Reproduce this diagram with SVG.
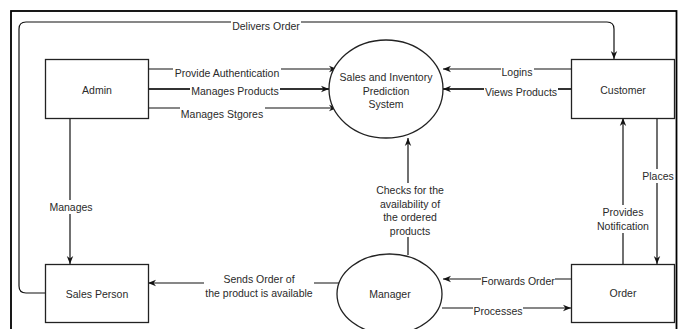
<svg xmlns="http://www.w3.org/2000/svg" width="680" height="329" viewBox="0 0 680 329">
<style>
.box{fill:#fff;stroke:#222;stroke-width:1.3}
.ell{fill:#fff;stroke:#222;stroke-width:1.3}
.ln{fill:none;stroke:#111;stroke-width:1.2}
.thick{stroke:#333;stroke-width:1.8}
.lbg{fill:#fff;stroke:none}
text{font-family:"Liberation Sans",Arial,sans-serif;font-size:10.5px;fill:#2a2a2a;text-anchor:middle;dominant-baseline:central}
</style>
<defs>
<marker id="ah" viewBox="0 0 10 10" refX="10" refY="5" markerWidth="8" markerHeight="8" markerUnits="userSpaceOnUse" orient="auto">
<path d="M0,1 L10,5 L0,9 L3,5 z" fill="#111"/>
</marker>
</defs>
<rect x="0" y="0" width="680" height="329" fill="#fff"/>
<rect id="frame" x="11" y="11" width="665.5" height="340" fill="none" stroke="#000" stroke-width="1.8"/>

<g id="connectors">
<path class="ln" d="M45,293 H26 Q19,293 19,286 V29 Q19,22 26,22 H607 Q614,22 614,29 V59" marker-end="url(#ah)"/>
<path class="ln" d="M149,69 H337" marker-end="url(#ah)"/>
<path class="ln thick" d="M149,89 H329" marker-end="url(#ah)"/>
<path class="ln" d="M149,108 H337" marker-end="url(#ah)"/>
<path class="ln" d="M571,69 H443" marker-end="url(#ah)"/>
<path class="ln thick" d="M571,89 H443" marker-end="url(#ah)"/>
<path class="ln" d="M70,118 V264" marker-end="url(#ah)"/>
<path class="ln" d="M408,255 V138" marker-end="url(#ah)"/>
<path class="ln" d="M623,264 V118" marker-end="url(#ah)"/>
<path class="ln" d="M657,118 V264" marker-end="url(#ah)"/>
<path class="ln" d="M339,283 H148" marker-end="url(#ah)"/>
<path class="ln" d="M571,279 H443" marker-end="url(#ah)"/>
<path class="ln" d="M442,308 H571" marker-end="url(#ah)"/>

<rect class="lbg" x="231" y="18" width="70" height="15"/>
<text x="266" y="26">Delivers Order</text>
<rect class="lbg" x="173" y="66" width="108" height="14"/>
<text x="227" y="73">Provide Authentication</text>
<rect class="lbg" x="190" y="85" width="90" height="13"/>
<text x="235" y="91">Manages Products</text>
<rect class="lbg" x="180" y="106" width="85" height="15"/>
<text x="222" y="114">Manages Stgores</text>
<rect class="lbg" x="501" y="65" width="33" height="14"/>
<text x="517" y="72">Logins</text>
<rect class="lbg" x="484" y="85" width="74" height="14"/>
<text x="521" y="92">Views Products</text>
<rect class="lbg" x="48" y="200" width="46" height="14"/>
<text x="71" y="207">Manages</text>
<rect class="lbg" x="375" y="183" width="70" height="54"/>
<text x="410" y="190">Checks for the</text>
<text x="410" y="203.5">availability of</text>
<text x="410" y="217">the ordered</text>
<text x="410" y="230.5">products</text>
<rect class="lbg" x="596" y="205" width="54" height="28"/>
<text x="623" y="212">Provides</text>
<text x="623" y="226">Notification</text>
<rect class="lbg" x="642" y="169" width="32" height="14"/>
<text x="658" y="176">Places</text>
<rect class="lbg" x="204" y="272" width="110" height="28"/>
<text x="259" y="279">Sends Order of</text>
<text x="259" y="293">the product is available</text>
<rect class="lbg" x="481" y="274" width="74" height="14"/>
<text x="518" y="281">Forwards Order</text>
<rect class="lbg" x="473" y="304" width="50" height="14"/>
<text x="498" y="311">Processes</text>
</g>

<g id="admin">
<rect class="box" x="45.5" y="59.5" width="103" height="59"/>
<text x="97" y="90">Admin</text>
</g>
<g id="system">
<ellipse class="ell" cx="386" cy="89" rx="57" ry="49"/>
<text x="386" y="77">Sales and Inventory</text>
<text x="386" y="90.5">Prediction</text>
<text x="386" y="104">System</text>
</g>
<g id="customer">
<rect class="box" x="571.5" y="59.5" width="103" height="59"/>
<text x="623" y="90">Customer</text>
</g>
<g id="salesperson">
<rect class="box" x="45.5" y="264.5" width="103" height="58"/>
<text x="97" y="294">Sales Person</text>
</g>
<g id="manager">
<ellipse class="ell" cx="389.5" cy="294" rx="52.5" ry="40"/>
<text x="390" y="294">Manager</text>
</g>
<g id="order">
<rect class="box" x="571.5" y="264.5" width="103" height="58"/>
<text x="623" y="293">Order</text>
</g>
</svg>
